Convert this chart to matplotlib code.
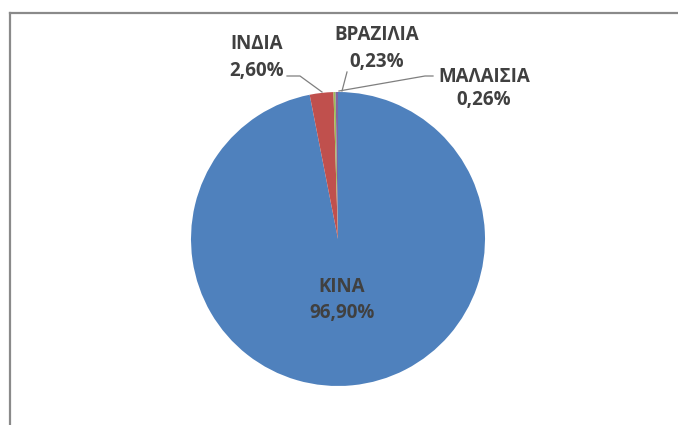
"""Pie chart of production share by country."""

import matplotlib.pyplot as plt
from matplotlib.lines import Line2D

countries = ["ΚΙΝΑ", "ΙΝΔΙΑ", "ΒΡΑΖΙΛΙΑ", "ΜΑΛΑΙΣΙΑ"]
shares = [96.90, 2.60, 0.23, 0.26]
colors = ["#4F81BD", "#C0504D", "#9BBB59", "#8064A2"]

W, H = 678, 425

fig = plt.figure(figsize=(W / 100, H / 100), dpi=100)
ax = fig.add_axes([0, 0, 1, 1])

# chart frame (only top and left edges fall inside the image)
fig.add_artist(Line2D([10 / W, 1], [1 - 13 / H, 1 - 13 / H], color="#8a8a8a", lw=1.6))
fig.add_artist(Line2D([10 / W, 10 / W], [0, 1 - 13 / H], color="#8a8a8a", lw=1.6))

cx, cy, r = 338, H - 239, 147
ax.pie(shares, colors=colors, startangle=90, counterclock=False,
       center=(cx, cy), radius=r, wedgeprops=dict(linewidth=0))

# pie() resets the limits, so work in pixel units afterwards
ax.set_xlim(0, W)
ax.set_ylim(0, H)
ax.set_aspect("equal")
ax.axis("off")


def pct(v):
    return f"{v:.2f}%".replace(".", ",")


font = dict(family=["Open Sans", "DejaVu Sans"], fontsize=13.5,
            fontweight="bold", color="#404040", ha="center", va="center")

# label text positions (name line, value line) in pixel coords from the top
label_pos = {
    "ΚΙΝΑ": (342, 287, 313),
    "ΙΝΔΙΑ": (257, 44, 71),
    "ΒΡΑΖΙΛΙΑ": (377, 35, 62),
    "ΜΑΛΑΙΣΙΑ": (484, 77, 100),
}
for name, val in zip(countries, shares):
    x, y1, y2 = label_pos[name]
    ax.text(x, H - y1, name, **font)
    ax.text(x, H - y2, pct(val), **font)

# leader lines for the thin slices
leaders = [
    [(287, 76), (300, 76), (322, 92)],
    [(347, 72), (342, 91)],
    [(433, 76), (425, 76), (339, 91)],
]
for pts in leaders:
    ax.plot([p[0] for p in pts], [H - p[1] for p in pts], color="#7f7f7f", lw=0.9)

fig.savefig("out.png", dpi=100)
